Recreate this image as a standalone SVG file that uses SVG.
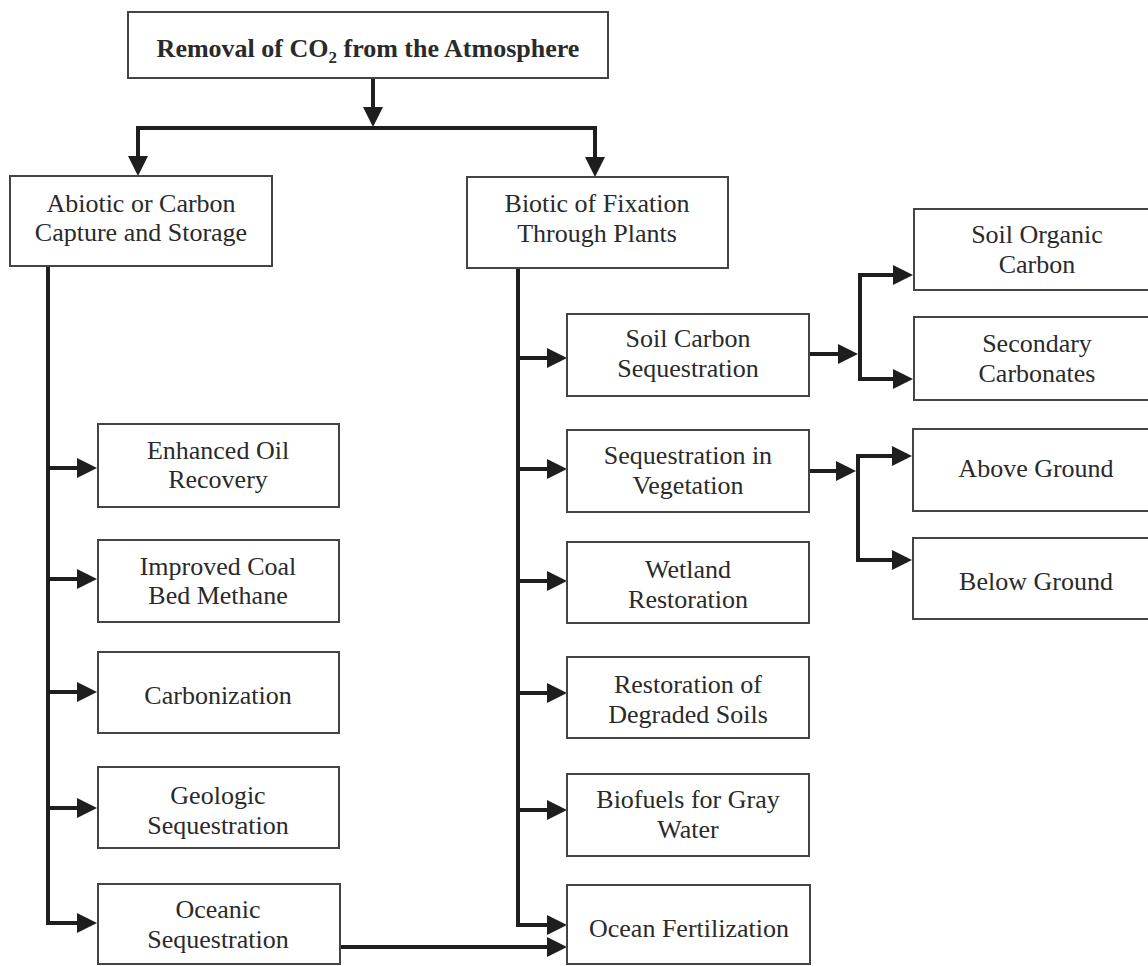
<svg xmlns="http://www.w3.org/2000/svg" width="1148" height="966" viewBox="0 0 1148 966">
<defs>
<marker id="ah" markerUnits="userSpaceOnUse" markerWidth="20" markerHeight="20" refX="10" refY="10" orient="auto">
<path d="M0,0 L20,10 L0,20 z" fill="#1e1e1e"/>
</marker>
<style>
.box{fill:#fff;stroke:#444;stroke-width:2}
.t{font-family:"Liberation Serif","Times New Roman",serif;font-size:26px;fill:#2a2a2a;text-anchor:middle}
.b{font-weight:bold}
.c{fill:none;stroke:#1e1e1e;stroke-width:4}
.a{fill:none;stroke:#1e1e1e;stroke-width:4;marker-end:url(#ah)}
</style>
</defs>
<rect width="1148" height="966" fill="#fff"/>

<g id="connectors">
<line class="a" x1="373" y1="78" x2="373" y2="117"/>
<polyline class="c" points="138,160 138,128 595,128 595,160"/>
<line class="a" x1="138" y1="150" x2="138" y2="166"/>
<line class="a" x1="595" y1="150" x2="595" y2="167"/>

<line class="c" x1="48" y1="266" x2="48" y2="925"/>
<line class="a" x1="46" y1="468" x2="87" y2="468"/>
<line class="a" x1="46" y1="579" x2="87" y2="579"/>
<line class="a" x1="46" y1="692" x2="87" y2="692"/>
<line class="a" x1="46" y1="808" x2="87" y2="808"/>
<line class="a" x1="46" y1="923" x2="87" y2="923"/>

<line class="c" x1="518" y1="268" x2="518" y2="927"/>
<line class="a" x1="516" y1="358" x2="557" y2="358"/>
<line class="a" x1="516" y1="469" x2="557" y2="469"/>
<line class="a" x1="516" y1="581" x2="557" y2="581"/>
<line class="a" x1="516" y1="693" x2="557" y2="693"/>
<line class="a" x1="516" y1="810" x2="557" y2="810"/>
<line class="a" x1="516" y1="925" x2="557" y2="925"/>

<line class="a" x1="340" y1="947" x2="557" y2="947"/>

<line class="a" x1="809" y1="354" x2="848" y2="354"/>
<polyline class="c" points="904,275 860,275 860,379 904,379"/>
<line class="a" x1="880" y1="275" x2="903" y2="275"/>
<line class="a" x1="880" y1="379" x2="903" y2="379"/>

<line class="a" x1="809" y1="471" x2="846" y2="471"/>
<polyline class="c" points="902,456 858,456 858,560 902,560"/>
<line class="a" x1="878" y1="456" x2="902" y2="456"/>
<line class="a" x1="878" y1="560" x2="902" y2="560"/>
</g>

<g id="n-root"><rect class="box" x="128" y="12" width="480" height="66"/>
<text class="t b" x="368" y="57">Removal of CO<tspan font-size="17" dy="6">2</tspan><tspan dy="-6"> from the Atmosphere</tspan></text></g>

<g id="n-abiotic"><rect class="box" x="10" y="176" width="262" height="90"/>
<text class="t" x="141" y="212">Abiotic or Carbon</text><text class="t" x="141" y="241">Capture and Storage</text></g>

<g id="n-biotic"><rect class="box" x="467" y="177" width="261" height="91"/>
<text class="t" x="597" y="212">Biotic of Fixation</text><text class="t" x="597" y="242">Through Plants</text></g>

<g id="n-eor"><rect class="box" x="98" y="424" width="241" height="83"/>
<text class="t" x="218" y="459">Enhanced Oil</text><text class="t" x="218" y="488">Recovery</text></g>

<g id="n-coal"><rect class="box" x="98" y="540" width="241" height="82"/>
<text class="t" x="218" y="575">Improved Coal</text><text class="t" x="218" y="604">Bed Methane</text></g>

<g id="n-carbonization"><rect class="box" x="98" y="652" width="241" height="81"/>
<text class="t" x="218" y="704">Carbonization</text></g>

<g id="n-geologic"><rect class="box" x="98" y="767" width="241" height="81"/>
<text class="t" x="218" y="804">Geologic</text><text class="t" x="218" y="834">Sequestration</text></g>

<g id="n-oceanic"><rect class="box" x="98" y="884" width="242" height="80"/>
<text class="t" x="218" y="918">Oceanic</text><text class="t" x="218" y="948">Sequestration</text></g>

<g id="n-soilcarbon"><rect class="box" x="567" y="314" width="242" height="82"/>
<text class="t" x="688" y="347">Soil Carbon</text><text class="t" x="688" y="377">Sequestration</text></g>

<g id="n-vegetation"><rect class="box" x="567" y="430" width="242" height="82"/>
<text class="t" x="688" y="464">Sequestration in</text><text class="t" x="688" y="494">Vegetation</text></g>

<g id="n-wetland"><rect class="box" x="567" y="542" width="242" height="81"/>
<text class="t" x="688" y="578">Wetland</text><text class="t" x="688" y="608">Restoration</text></g>

<g id="n-degraded"><rect class="box" x="567" y="657" width="242" height="81"/>
<text class="t" x="688" y="693">Restoration of</text><text class="t" x="688" y="723">Degraded Soils</text></g>

<g id="n-biofuels"><rect class="box" x="567" y="774" width="242" height="82"/>
<text class="t" x="688" y="808">Biofuels for Gray</text><text class="t" x="688" y="838">Water</text></g>

<g id="n-oceanfert"><rect class="box" x="567" y="885" width="243" height="79"/>
<text class="t" x="689" y="937">Ocean Fertilization</text></g>

<g id="n-soilorganic"><rect class="box" x="914" y="209" width="250" height="81"/>
<text class="t" x="1037" y="243">Soil Organic</text><text class="t" x="1037" y="273">Carbon</text></g>

<g id="n-secondary"><rect class="box" x="914" y="317" width="250" height="83"/>
<text class="t" x="1037" y="352">Secondary</text><text class="t" x="1037" y="382">Carbonates</text></g>

<g id="n-above"><rect class="box" x="913" y="429" width="250" height="82"/>
<text class="t" x="1036" y="477">Above Ground</text></g>

<g id="n-below"><rect class="box" x="913" y="538" width="250" height="81"/>
<text class="t" x="1036" y="590">Below Ground</text></g>
</svg>
